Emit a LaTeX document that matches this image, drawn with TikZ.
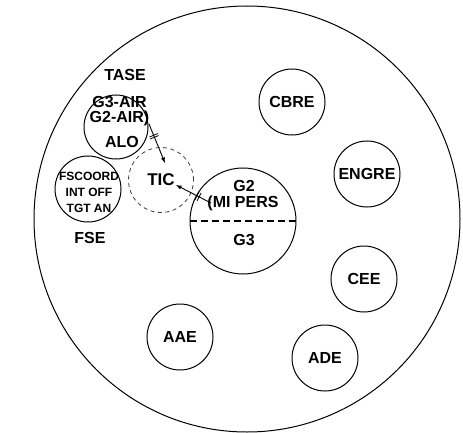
\documentclass[tikz,border=0pt]{standalone}
\usepackage{fontspec}
\setmainfont{Liberation Sans}
\usetikzlibrary{positioning}
\tikzstyle{every node}=[font=\bfseries\fontsize{16}{18}\selectfont,inner sep=1pt]
\tikzstyle{cell}=[draw=black,circle,line width=1pt,minimum size=66pt,inner sep=0pt]
\tikzstyle{team}=[cell,dash pattern=on 4pt off 3.5pt,line width=0.8pt,draw=black!75]
\tikzstyle{small}=[font=\bfseries\fontsize{12}{16}\selectfont,align=center]
\tikzstyle{flow}=[-latex,line width=0.9pt]
\tikzstyle{brk}=[draw,sloped,minimum width=0pt,minimum height=9pt,inner sep=0pt,line width=0.8pt]

\begin{document}
\begin{tikzpicture}[x=1pt,y=-1pt]
\useasboundingbox (0,0) rectangle (463,433);
% division command post
\node[cell,minimum size=426pt] (dcp) at (247,219) {};
% elements
\node[cell] (cbre) at (292,102) {CBRE};
\node[cell] (engre) at (367,174) {ENGRE};
\node[cell] (cee) at (364,279) {CEE};
\node[cell] (ade) at (325,358) {ADE};
\node[cell] (aae) at (180,337) {AAE};
% tactical air support
\node[cell,minimum size=64pt] (alo) at (116,127) {};
\node[align=center,font=\bfseries\fontsize{16}{15}\selectfont] (airtxt) at (119.5,111.5) {G3-AIR\\G2-AIR)};
\node (alotxt) at (122,142) {ALO};
\node (tase) at (125,75) {TASE};
% fire support
\node[cell] (fse) at (88,189) {};
\node[small] (fsetxt) at (89,192) {FSCOORD\\INT OFF\\TGT AN};
\node (fselbl) at (90,238) {FSE};
% intelligence center
\node[team,minimum size=65pt] (tic) at (161,180) {};
\node[font=\bfseries\fontsize{17}{19}\selectfont] (tictxt) at (161,180) {TIC};
% G2 / G3
\node[cell,minimum size=106pt] (g) at (243,221) {};
\node (g2) at (244,186) {G2};
\node (mipers) at (243,203) {(MI PERS};
\node (g3) at (244,240) {G3};
\draw[dash pattern=on 7pt off 4pt,line width=1.8pt] (g.west) -- (g.east);
% links
\coordinate (a1) at (149,124);
\coordinate (a2) at (165,163);
\coordinate (b1) at (211,203);
\coordinate (b2) at (176,185);
\draw[flow] (a1) -- (a2) node[brk,pos=.29] {} node[brk,pos=.34] {};
\draw[flow] (b1) -- (b2) node[brk,pos=.34] {} node[brk,pos=.40] {};
\end{tikzpicture}
\end{document}
